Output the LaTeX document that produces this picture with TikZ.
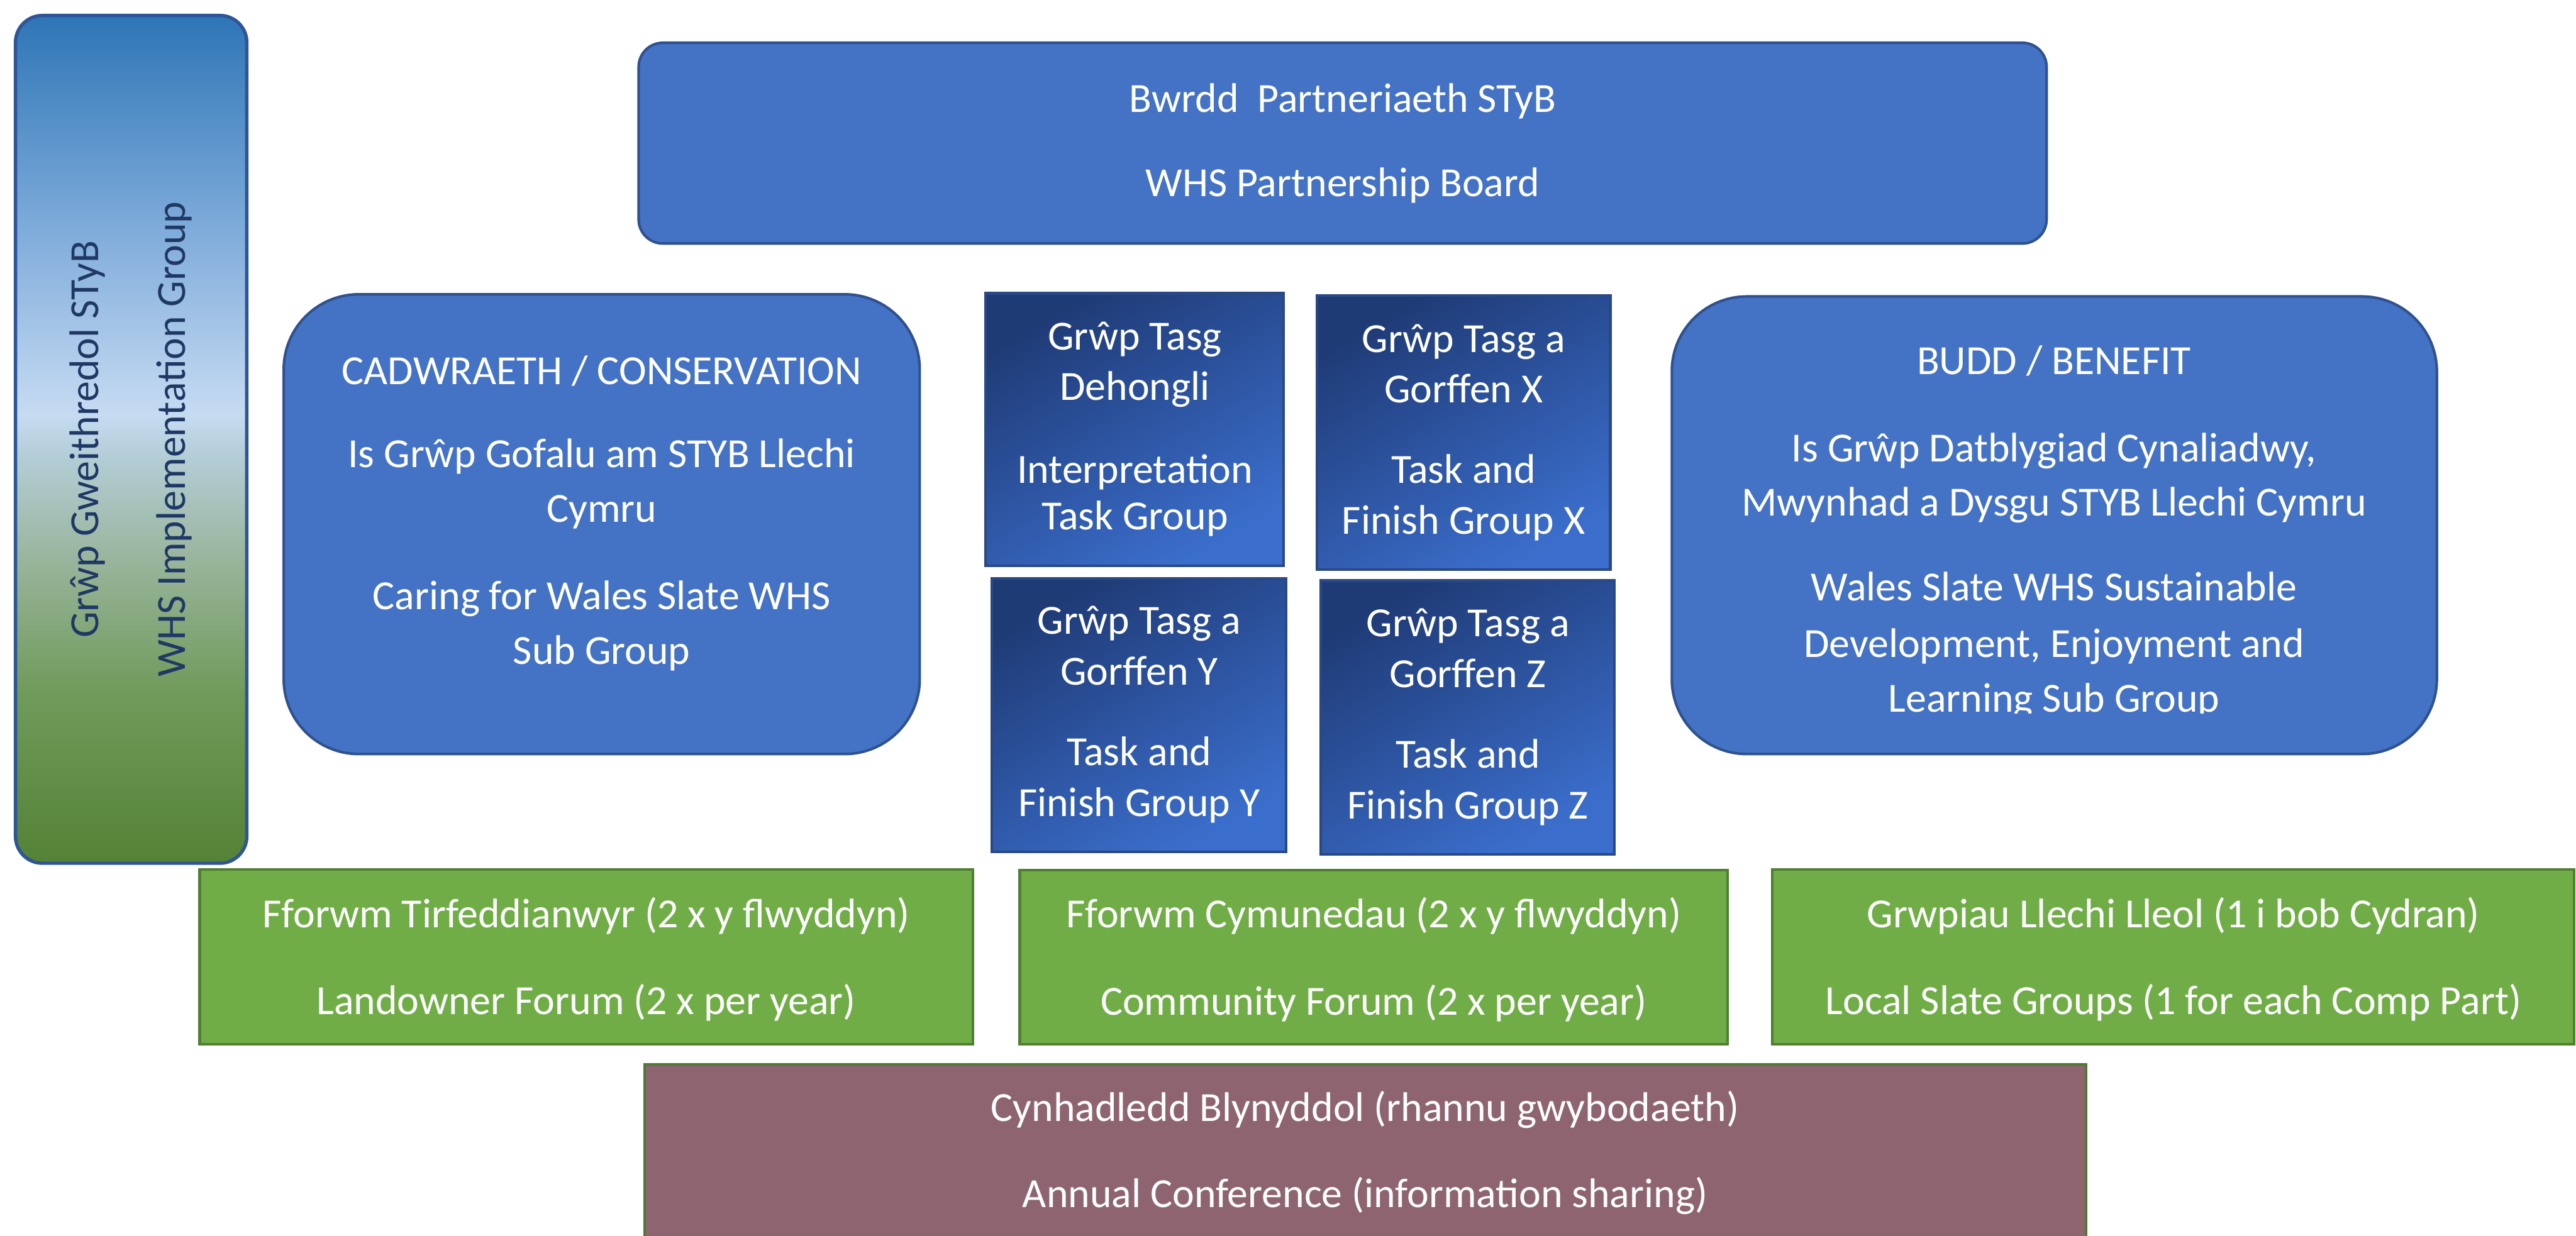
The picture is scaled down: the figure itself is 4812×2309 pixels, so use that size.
\documentclass[tikz,border=0pt]{standalone}
\usepackage{fontspec}
\setmainfont{Carlito}
\usetikzlibrary{fit}
\definecolor{boxblue}{HTML}{4472C4}
\definecolor{boxblueline}{HTML}{2F528F}
\definecolor{taskdark}{HTML}{1F3B76}
\definecolor{tasklight}{HTML}{3B6ECC}
\definecolor{taskline}{HTML}{294884}
\definecolor{grn}{HTML}{70AD47}
\definecolor{grnline}{HTML}{507E32}
\definecolor{mauve}{HTML}{8E6470}
\definecolor{mauveline}{HTML}{4E7A31}
\definecolor{navytext}{HTML}{1F3864}
\definecolor{barblue}{HTML}{2E75B6}
\definecolor{barb2}{HTML}{7EABDA}
\definecolor{barpale}{HTML}{C6DBF2}
\definecolor{barg4}{HTML}{B4CDD6}
\definecolor{barg3}{HTML}{97B398}
\definecolor{barg2}{HTML}{709A5A}
\definecolor{bargreen}{HTML}{548235}
\definecolor{barline}{HTML}{2F5597}
\pgfdeclareverticalshading{barshade}{100bp}{color(0bp)=(bargreen); color(25bp)=(bargreen); color(35bp)=(barg2); color(42.5bp)=(barg3); color(49bp)=(barg4); color(51.5bp)=(barpale); color(62.5bp)=(barb2); color(75bp)=(barblue); color(100bp)=(barblue)}
\tikzset{
  boxbase/.style={inner sep=0pt, outer sep=0pt},
  bluebox/.style={boxbase, fill=boxblue, draw=boxblueline, line width=1.4pt},
  taskbox/.style={boxbase, top color=taskdark, bottom color=tasklight, shading angle=30, draw=taskline, line width=1.4pt},
  greenbox/.style={boxbase, fill=grn, draw=grnline, line width=1.4pt},
  confbox/.style={boxbase, fill=mauve, draw=mauveline, line width=1.4pt},
  barbox/.style={boxbase, shading=barshade, draw=barline, line width=1.8pt, rounded corners=0.5cm},
  txt/.style={anchor=base, inner sep=0pt, text=white, font=\fontsize{22}{26}\selectfont},
  bartxt/.style={anchor=base, inner sep=0pt, text=navytext, rotate=90, font=\fontsize{22}{26}\selectfont}
}
\begin{document}
\begin{tikzpicture}[x=0.01cm, y=-0.01cm]
\clip (0,0) rectangle (4812,2309);
\fill[white] (0,0) rectangle (4812,2309);
% left vertical bar
\node[barbox, fit={(29,29) (461,1613)}] (bar) {};
\node[bartxt] (bar-1) at (184,821) {Grŵp Gweithredol STyB};
\node[bartxt] (bar-2) at (346,821) {WHS Implementation Group};
% partnership board
\node[bluebox, rounded corners=0.45cm, fit={(1193,80) (3823,455)}] (board) {};
\node[txt] (board-1) at (2508,210) {Bwrdd\ \ Partneriaeth STyB};
\node[txt] (board-2) at (2508,367) {WHS Partnership Board};
% conservation
\node[bluebox, rounded corners=1.4cm, fit={(530,550) (1718,1409)}] (cons) {};
\node[txt] (cons-1) at (1124,718) {CADWRAETH / CONSERVATION};
\node[txt] (cons-2) at (1124,874) {Is Grŵp Gofalu am STYB Llechi};
\node[txt] (cons-3) at (1124,976) {Cymru};
\node[txt] (cons-4) at (1124,1139) {Caring for Wales Slate WHS};
\node[txt] (cons-5) at (1124,1241) {Sub Group};
% benefit
\node[bluebox, rounded corners=1.4cm, fit={(3123,554) (4552,1409)}] (ben) {};
\node[txt] (ben-1) at (3837,700) {BUDD / BENEFIT};
\node[txt] (ben-2) at (3837,863) {Is Grŵp Datblygiad Cynaliadwy,};
\node[txt] (ben-3) at (3837,964) {Mwynhad a Dysgu STYB Llechi Cymru};
\node[txt] (ben-4) at (3837,1123) {Wales Slate WHS Sustainable};
\node[txt] (ben-5) at (3837,1228) {Development, Enjoyment and};
\begin{scope}
\clip (3123,1000) rectangle (4552,1333);
\node[txt] (ben-6) at (3837,1330) {Learning Sub Group};
\end{scope}
% task groups
\node[taskbox, fit={(1841,548) (2398,1057)}] (deh) {};
\node[txt] (deh-1) at (2120,654) {Grŵp Tasg};
\node[txt] (deh-2) at (2120,748) {Dehongli};
\node[txt] (deh-3) at (2120,903) {Interpretation};
\node[txt] (deh-4) at (2120,990) {Task Group};
\node[taskbox, fit={(2460,552) (3008,1064)}] (tx) {};
\node[txt] (tx-1) at (2734,659) {Grŵp Tasg a};
\node[txt] (tx-2) at (2734,753) {Gorffen X};
\node[txt] (tx-3) at (2734,903) {Task and};
\node[txt] (tx-4) at (2734,998) {Finish Group X};
\node[taskbox, fit={(1853,1081) (2402,1592)}] (ty) {};
\node[txt] (ty-1) at (2128,1185) {Grŵp Tasg a};
\node[txt] (ty-2) at (2128,1280) {Gorffen Y};
\node[txt] (ty-3) at (2128,1430) {Task and};
\node[txt] (ty-4) at (2128,1525) {Finish Group Y};
\node[taskbox, fit={(2467,1085) (3016,1597)}] (tz) {};
\node[txt] (tz-1) at (2742,1190) {Grŵp Tasg a};
\node[txt] (tz-2) at (2742,1285) {Gorffen Z};
\node[txt] (tz-3) at (2742,1435) {Task and};
\node[txt] (tz-4) at (2742,1530) {Finish Group Z};
% forums
\node[greenbox, fit={(373,1625) (1817,1951)}] (land) {};
\node[txt] (land-1) at (1095,1733) {Fforwm Tirfeddianwyr (2 x y flwyddyn)};
\node[txt] (land-2) at (1095,1895) {Landowner Forum (2 x per year)};
\node[greenbox, fit={(1905,1626) (3227,1951)}] (comm) {};
\node[txt] (comm-1) at (2566,1733) {Fforwm Cymunedau (2 x y flwyddyn)};
\node[txt] (comm-2) at (2566,1897) {Community Forum (2 x per year)};
\node[greenbox, fit={(3311,1625) (4808,1951)}] (local) {};
\node[txt] (local-1) at (4060,1733) {Grwpiau Llechi Lleol (1 i bob Cydran)};
\node[txt] (local-2) at (4060,1895) {Local Slate Groups (1 for each Comp Part)};
% annual conference
\node[confbox, fit={(1204,1989) (3897,2340)}] (conf) {};
\node[txt] (conf-1) at (2550,2095) {Cynhadledd Blynyddol (rhannu gwybodaeth)};
\node[txt] (conf-2) at (2550,2256) {Annual Conference (information sharing)};
\end{tikzpicture}
\end{document}
